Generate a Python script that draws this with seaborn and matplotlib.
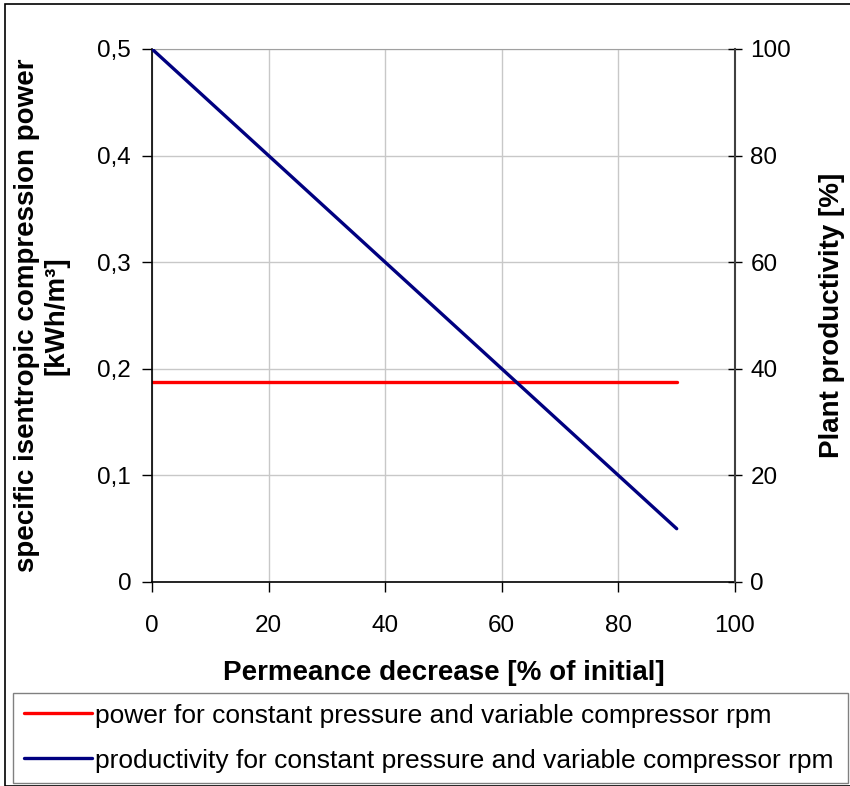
import matplotlib
matplotlib.use("Agg")
import matplotlib.pyplot as plt
import matplotlib.patches as patches
import seaborn as sns
import pandas as pd

# ==========================
# DATA
# ==========================

permeance = [0, 10, 20, 30, 40, 50, 60, 70, 80, 90]
power = [0.188, 0.188, 0.188, 0.188, 0.188, 0.188, 0.188, 0.188, 0.188, 0.188]
productivity = [100, 90, 80, 70, 60, 50, 40, 30, 20, 10]

left_ticks = [0, 0.1, 0.2, 0.3, 0.4, 0.5]
left_labels = ["0", "0,1", "0,2", "0,3", "0,4", "0,5"]
right_ticks = [0, 20, 40, 60, 80, 100]
x_ticks = [0, 20, 40, 60, 80, 100]

df = pd.DataFrame({
    "permeance": permeance,
    "power": power,
    "productivity": productivity
})

# ==========================
# STYLE
# ==========================

sns.set_style("ticks")
plt.rcParams["font.family"] = ["Liberation Sans", "DejaVu Sans"]
plt.rcParams["text.color"] = "black"
plt.rcParams["axes.labelcolor"] = "black"
plt.rcParams["xtick.color"] = "black"
plt.rcParams["ytick.color"] = "black"

fig = plt.figure(figsize=(8.5, 7.86), dpi=100)

ax = fig.add_axes([152/850, 1-582/786, 583/850, 533/786])
ax2 = ax.twinx()

sns.lineplot(
    data=df, x="permeance", y="power",
    ax=ax, color="#ff0000", linewidth=2.4,
    label="power for constant pressure and variable compressor rpm",
    legend=False
)

sns.lineplot(
    data=df, x="permeance", y="productivity",
    ax=ax2, color="#000080", linewidth=2.4,
    label="productivity for constant pressure and variable compressor rpm",
    legend=False
)

# axes
ax.set_xlim(0, 100)
ax.set_ylim(0, 0.5)
ax2.set_ylim(0, 100)

ax.set_xticks(x_ticks)
ax.set_yticks(left_ticks)
ax.set_yticklabels(left_labels)
ax2.set_yticks(right_ticks)

ax.grid(True, color="#c8c8c8", linewidth=1)
ax.set_axisbelow(True)

for s in ["left", "bottom"]:
    ax.spines[s].set_color("black")
    ax.spines[s].set_linewidth(1.2)
ax.spines["top"].set_visible(True)
ax.spines["top"].set_color("#a0a0a0")
ax.spines["right"].set_visible(False)
ax2.spines["top"].set_visible(False)
ax2.spines["left"].set_visible(False)
ax2.spines["bottom"].set_visible(False)
ax2.spines["right"].set_visible(True)
ax2.spines["right"].set_color("#404040")
ax2.spines["right"].set_linewidth(1.5)

ax.tick_params(axis="y", labelsize=17.5, length=7, width=1, direction="out", pad=8)
ax.tick_params(axis="x", labelsize=17.5, length=7, width=1, direction="out", pad=17)
ax2.tick_params(axis="y", labelsize=17.5, length=10, width=1, direction="inout", pad=6)

ax.set_xlabel("Permeance decrease [% of initial]", fontsize=20, fontweight="bold", labelpad=16)
ax.set_ylabel("specific isentropic compression power\n[kWh/m³]", fontsize=20, fontweight="bold", labelpad=20, linespacing=1.2)
ax2.set_ylabel("Plant productivity [%]", fontsize=20, fontweight="bold", labelpad=20)

# legend
h1, l1 = ax.get_legend_handles_labels()
h2, l2 = ax2.get_legend_handles_labels()
leg = fig.legend(
    h1 + h2, l1 + l2,
    loc="upper left",
    bbox_to_anchor=(13/850, 1-778/786, 835/850, 85/786),
    mode="expand",
    fontsize=19,
    frameon=True,
    fancybox=False,
    edgecolor="#606060",
    handlelength=2.6,
    handletextpad=0.1,
    borderpad=0.4,
    labelspacing=0.8,
    borderaxespad=0
)
leg.get_frame().set_linewidth(1)

# outer frame
fig.patches.append(patches.Rectangle(
    (5/850, 0), 1, 1-4/786,
    transform=fig.transFigure, fill=False,
    edgecolor="black", linewidth=1.2
))

fig.savefig("out.png", dpi=100)
